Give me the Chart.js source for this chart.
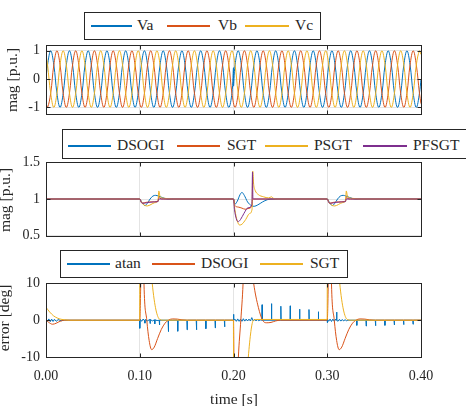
<!DOCTYPE html>
<html>
<head>
<meta charset="utf-8">
<script src="https://cdn.jsdelivr.net/npm/chart.js@4"></script>
<style>
  body { margin: 0; background: #fff; }
  #wrap { position: relative; width: 466px; height: 406px; overflow: hidden; background: #fff;
          font-family: 'Liberation Serif', 'Times New Roman', serif; color: #262626; }
  canvas { position: absolute; left: 0; }
  .legend { position: absolute; background: #fff; border: 1px solid #262626; box-sizing: border-box; z-index: 5; }
  .sample { position: absolute; height: 2px; z-index: 6; }
  .ltext { position: absolute; font-size: 15.5px; line-height: 18px; height: 18px; white-space: nowrap; z-index: 6; }
  .ytitle { position: absolute; font-size: 15.5px; line-height: 16px; white-space: nowrap;
            transform: translate(-50%, -50%) rotate(-90deg); z-index: 4; }
  .xtitle { position: absolute; font-size: 15.5px; line-height: 16px; white-space: nowrap;
            transform: translate(-50%, -50%); }
</style>
</head>
<body>
<div id="wrap">
  <canvas id="c1" width="466" height="97" style="top:31px"></canvas>
  <canvas id="c2" width="466" height="102" style="top:148px"></canvas>
  <canvas id="c3" width="466" height="137" style="top:269px"></canvas>

  <div class="legend" style="left:84px; top:12px; width:237px; height:28px"></div>
  <div class="sample" style="left:91px; top:25px; width:41px; background:#0072BD"></div>
  <div class="ltext" style="left:137px; top:16px">Va</div>
  <div class="sample" style="left:167px; top:25px; width:43px; background:#D95319"></div>
  <div class="ltext" style="left:218px; top:16px">Vb</div>
  <div class="sample" style="left:245px; top:25px; width:44px; background:#EDB120"></div>
  <div class="ltext" style="left:295px; top:16px">Vc</div>

  <div class="legend" style="left:62px; top:129px; width:420px; height:30px"></div>
  <div class="sample" style="left:68px; top:145px; width:43px; background:#0072BD"></div>
  <div class="ltext" style="left:117px; top:136px">DSOGI</div>
  <div class="sample" style="left:177px; top:145px; width:43px; background:#D95319"></div>
  <div class="ltext" style="left:227px; top:136px">SGT</div>
  <div class="sample" style="left:265px; top:145px; width:43px; background:#EDB120"></div>
  <div class="ltext" style="left:314px; top:136px">PSGT</div>
  <div class="sample" style="left:363px; top:145px; width:44px; background:#7E2F8E"></div>
  <div class="ltext" style="left:413px; top:136px">PFSGT</div>

  <div class="legend" style="left:60px; top:250px; width:288px; height:28px"></div>
  <div class="sample" style="left:67px; top:263px; width:43px; background:#0072BD"></div>
  <div class="ltext" style="left:115px; top:254px">atan</div>
  <div class="sample" style="left:152px; top:263px; width:43px; background:#D95319"></div>
  <div class="ltext" style="left:201px; top:254px">DSOGI</div>
  <div class="sample" style="left:260px; top:263px; width:43px; background:#EDB120"></div>
  <div class="ltext" style="left:310px; top:254px">SGT</div>

  <div class="ytitle" style="left:12px; top:80px">mag [p.u.]</div>
  <div class="ytitle" style="left:5px; top:200px">mag [p.u.]</div>
  <div class="ytitle" style="left:4px; top:318px">error [deg]</div>
  <div class="xtitle" style="left:234px; top:399px">time [s]</div>
</div>

<script>
// x axis ticks (shared by the three panels)
const xTickVals = [0, 0.1, 0.2, 0.3, 0.4];
const xTickLabels = ['0.00', '0.10', '0.20', '0.30', '0.40'];

// ---- panel 1 : three phase voltages, sampled every 60 deg (50 Hz) ----
const sineStep = 1 / 300;
const vaV = [0,
  0.5, 1, 0.5, -0.5, -1, -0.5, 0.5, 1, 0.5, -0.5, -1, -0.5,
  0.5, 1, 0.5, -0.5, -1, -0.5, 0.5, 1, 0.5, -0.5, -1, -0.5,
  0.5, 1, 0.5, -0.5, -1, -0.5, 0.5, 1, 0.5, -0.5, -1, -0.5,
  0.5, 1, 0.5, -0.5, -1, -0.5, 0.5, 1, 0.5, -0.5, -1, -0.5,
  0.5, 1, 0.5, -0.5, -1, -0.5, 0.5, 1, 0.5, -0.5, -1, -0.5,
  0.5, 1, 0.5, -0.5, -1, -0.5, 0.5, 1, 0.5, -0.5, -1, -0.5,
  0.5, 1, 0.5, -0.5, -1, -0.5, 0.5, 1, 0.5, -0.5, -1, -0.5,
  0.5, 1, 0.5, -0.5, -1, -0.5, 0.5, 1, 0.5, -0.5, -1, -0.5,
  0.5, 1, 0.5, -0.5, -1, -0.5, 0.5, 1, 0.5, -0.5, -1, -0.5,
  0.5, 1, 0.5, -0.5, -1, -0.5, 0.5, 1, 0.5, -0.5, -1, -0.5,
  0];
const vbV = [-0.87,
  -1, -0.5, 0.5, 1, 0.5, -0.5, -1, -0.5, 0.5, 1, 0.5, -0.5,
  -1, -0.5, 0.5, 1, 0.5, -0.5, -1, -0.5, 0.5, 1, 0.5, -0.5,
  -1, -0.5, 0.5, 1, 0.5, -0.5, -1, -0.5, 0.5, 1, 0.5, -0.5,
  -1, -0.5, 0.5, 1, 0.5, -0.5, -1, -0.5, 0.5, 1, 0.5, -0.5,
  -1, -0.5, 0.5, 1, 0.5, -0.5, -1, -0.5, 0.5, 1, 0.5, -0.5,
  -1, -0.5, 0.5, 1, 0.5, -0.5, -1, -0.5, 0.5, 1, 0.5, -0.5,
  -1, -0.5, 0.5, 1, 0.5, -0.5, -1, -0.5, 0.5, 1, 0.5, -0.5,
  -1, -0.5, 0.5, 1, 0.5, -0.5, -1, -0.5, 0.5, 1, 0.5, -0.5,
  -1, -0.5, 0.5, 1, 0.5, -0.5, -1, -0.5, 0.5, 1, 0.5, -0.5,
  -1, -0.5, 0.5, 1, 0.5, -0.5, -1, -0.5, 0.5, 1, 0.5, -0.5,
  -0.87];
const vcV = [0.87,
  0.5, -0.5, -1, -0.5, 0.5, 1, 0.5, -0.5, -1, -0.5, 0.5, 1,
  0.5, -0.5, -1, -0.5, 0.5, 1, 0.5, -0.5, -1, -0.5, 0.5, 1,
  0.5, -0.5, -1, -0.5, 0.5, 1, 0.5, -0.5, -1, -0.5, 0.5, 1,
  0.5, -0.5, -1, -0.5, 0.5, 1, 0.5, -0.5, -1, -0.5, 0.5, 1,
  0.5, -0.5, -1, -0.5, 0.5, 1, 0.5, -0.5, -1, -0.5, 0.5, 1,
  0.5, -0.5, -1, -0.5, 0.5, 1, 0.5, -0.5, -1, -0.5, 0.5, 1,
  0.5, -0.5, -1, -0.5, 0.5, 1, 0.5, -0.5, -1, -0.5, 0.5, 1,
  0.5, -0.5, -1, -0.5, 0.5, 1, 0.5, -0.5, -1, -0.5, 0.5, 1,
  0.5, -0.5, -1, -0.5, 0.5, 1, 0.5, -0.5, -1, -0.5, 0.5, 1,
  0.5, -0.5, -1, -0.5, 0.5, 1, 0.5, -0.5, -1, -0.5, 0.5, 1,
  0.87];
// phase jump of Va at 0.2 s
const vaJumpT = [0.19995, 0.20005];
const vaJumpV = [0.4, -0.25];
const yTicks1 = [-1, 0, 1];
const yLabels1 = ['-1', '0', '1'];

// ---- panel 2 : estimated magnitude ----
const dsogiMagT = [0, 0.1, 0.1025, 0.1055, 0.108, 0.111, 0.114, 0.117, 0.12, 0.124, 0.13,
  0.2, 0.2015, 0.204, 0.207, 0.209, 0.2115, 0.215, 0.219, 0.222, 0.226, 0.231, 0.236, 0.242,
  0.3, 0.3025, 0.3055, 0.308, 0.311, 0.314, 0.317, 0.32, 0.324, 0.33, 0.4];
const dsogiMagV = [1, 1, 0.95, 0.91, 0.94, 1.0, 1.04, 1.05, 1.04, 1.02, 1.0,
  1, 0.93, 0.97, 1.06, 1.09, 1.05, 0.96, 0.91, 0.9, 0.92, 0.96, 0.99, 1.0,
  1, 0.95, 0.91, 0.94, 1.0, 1.04, 1.05, 1.04, 1.02, 1.0, 1];
const sgtMagT = [0, 0.1, 0.1015, 0.103, 0.107, 0.112, 0.1195, 0.1202, 0.1215, 0.125,
  0.2, 0.2015, 0.205, 0.209, 0.2125, 0.2155, 0.2195, 0.2205, 0.2215, 0.225,
  0.3, 0.3015, 0.303, 0.307, 0.312, 0.3195, 0.3202, 0.3215, 0.325, 0.4];
const sgtMagV = [1, 1, 0.96, 0.945, 0.955, 0.96, 0.97, 1.03, 1.01, 1.0,
  1, 0.91, 0.89, 0.875, 0.86, 0.87, 0.9, 1.0, 1.0, 1.0,
  1, 0.96, 0.945, 0.955, 0.96, 0.97, 1.03, 1.01, 1.0, 1];
const psgtMagT = [0, 0.1, 0.102, 0.105, 0.108, 0.112, 0.116, 0.1195, 0.1203, 0.1215, 0.123, 0.126, 0.13, 0.135,
  0.2, 0.2015, 0.204, 0.2065, 0.209, 0.213, 0.217, 0.2198, 0.2205, 0.2215, 0.223, 0.2265, 0.232, 0.2375, 0.2405, 0.2425, 0.246,
  0.3, 0.302, 0.305, 0.308, 0.312, 0.316, 0.3195, 0.3203, 0.3215, 0.323, 0.326, 0.33, 0.335, 0.4];
const psgtMagV = [1, 1, 0.95, 0.915, 0.905, 0.925, 0.95, 0.97, 1.11, 1.04, 1.02, 1.01, 1.005, 1.0,
  1, 0.85, 0.7, 0.645, 0.655, 0.72, 0.8, 0.86, 1.38, 1.2, 1.12, 1.06, 1.03, 1.015, 1.03, 1.01, 1.0,
  1, 0.95, 0.915, 0.905, 0.925, 0.95, 0.97, 1.11, 1.04, 1.02, 1.01, 1.005, 1.0, 1];
const pfsgtMagT = [0, 0.1, 0.1015, 0.103, 0.106, 0.11, 0.115, 0.1195, 0.1201, 0.125,
  0.2, 0.201, 0.203, 0.205, 0.2075, 0.211, 0.2155, 0.2196, 0.2203, 0.2207, 0.2215, 0.225,
  0.3, 0.3015, 0.303, 0.306, 0.31, 0.315, 0.3195, 0.3201, 0.325, 0.4];
const pfsgtMagV = [1, 1, 0.955, 0.94, 0.945, 0.955, 0.96, 0.965, 1.0, 1.0,
  1, 0.86, 0.73, 0.69, 0.72, 0.8, 0.88, 0.92, 1.37, 1.0, 1.0, 1.0,
  1, 0.955, 0.94, 0.945, 0.955, 0.96, 0.965, 1.0, 1.0, 1];
const yTicks2 = [0.5, 1, 1.5];
const yLabels2 = ['0.5', '1', '1.5'];

// ---- panel 3 : phase error [deg] ----
const atanErrT = [0, 0.0015, 0.003, 0.0045, 0.006, 0.0075, 0.009, 0.011, 0.013, 0.016, 0.02, 0.0999,
  0.1, 0.1004, 0.102, 0.1035, 0.1052, 0.1055, 0.1058, 0.108, 0.1107, 0.111, 0.1113, 0.1135, 0.1157, 0.116, 0.1163,
  0.1185, 0.1207, 0.121, 0.1213,
  0.1302, 0.1305, 0.1308, 0.1402, 0.1405, 0.1408, 0.1502, 0.1505, 0.1508, 0.1602, 0.1605, 0.1608,
  0.1702, 0.1705, 0.1708, 0.1802, 0.1805, 0.1808, 0.1902, 0.1905, 0.1908, 0.1999,
  0.2, 0.2004, 0.2015, 0.203, 0.2045, 0.206, 0.2075, 0.209, 0.2105, 0.212, 0.2135, 0.215, 0.2165, 0.218,
  0.2195, 0.221, 0.2225, 0.224, 0.2255, 0.227, 0.2285,
  0.2302, 0.2305, 0.2308, 0.2402, 0.2405, 0.2408, 0.2502, 0.2505, 0.2508, 0.2602, 0.2605, 0.2608,
  0.2702, 0.2705, 0.2708, 0.2802, 0.2805, 0.2808, 0.2902, 0.2905, 0.2908, 0.2999,
  0.3, 0.3004, 0.3015, 0.303, 0.3045, 0.306, 0.3075, 0.309, 0.3097, 0.31, 0.3103, 0.3115, 0.313, 0.3145,
  0.316, 0.3175, 0.319, 0.3205, 0.322,
  0.3312, 0.3315, 0.3318, 0.3412, 0.3415, 0.3418, 0.3512, 0.3515, 0.3518, 0.3612, 0.3615, 0.3618,
  0.3712, 0.3715, 0.3718, 0.3812, 0.3815, 0.3818, 0.3912, 0.3915, 0.3918, 0.4];
const atanErrV = [0.3, -0.3, 0.35, -0.4, 0.3, -0.35, 0.25, -0.3, 0.2, -0.15, 0, 0,
  -2.2, 0.3, -0.3, 0.3, -0.1, -0.8, 0.2, -0.2, 0.2, -0.9, 0.2, -0.2, 0.1, -1.0, 0.1,
  -0.1, 0, -1.3, 0,
  0, -3.1, 0, 0, -3.0, 0, 0, -2.6, 0, 0, -2.6, 0,
  0, -2.3, 0, 0, -2.1, 0, 0, -1.8, 0, 0,
  1.6, 0, 0.3, -0.3, 0.35, -0.3, 0.3, -0.3, 0.4, -0.25, 0.3, -0.2, 0.3, -0.2,
  0.7, -0.2, 0.25, -0.2, 0.2, -0.15, 0.1,
  0, 4.2, 0, 0, 4.5, 0, 0, 3.8, 0, 0, 3.9, 0,
  0, 3.0, 0, 0, 2.9, 0, 0, 2.3, 0, 0,
  -0.7, 0.3, -0.3, 0.3, -0.35, 0.3, -0.3, 0.3, 0, 2.2, 0, -0.3, 0.25, -0.25,
  0.2, -0.2, 0.15, -0.15, 0,
  0, -1.4, 0, 0, -1.6, 0, 0, -1.5, 0, 0, -1.4, 0,
  0, -1.3, 0, 0, -1.2, 0, 0, -1.1, 0, 0];
const dsogiErrT = [0, 0.003, 0.007, 0.011, 0.015, 0.02, 0.0999,
  0.1, 0.1012, 0.102, 0.1035, 0.1045, 0.1075, 0.11, 0.1127, 0.1155, 0.119, 0.123, 0.127, 0.1305, 0.135, 0.14, 0.145, 0.15, 0.1999,
  0.2, 0.2008, 0.203, 0.2052, 0.2078, 0.2102, 0.2115, 0.217, 0.2215, 0.2265, 0.231, 0.2355, 0.24, 0.245, 0.25, 0.2999,
  0.3, 0.3012, 0.302, 0.3035, 0.3045, 0.3075, 0.31, 0.3127, 0.3155, 0.319, 0.323, 0.327, 0.3305, 0.335, 0.34, 0.345, 0.35, 0.4];
const dsogiErrV = [0, -0.6, -1.1, -0.8, -0.3, 0, 0,
  0, 12, 25, 25, 10, 0, -5.5, -8, -7.3, -5, -2.5, -0.8, 0, 0.35, 0.3, 0.1, 0, 0,
  0, -20, -25, -10, 0, 10, 20, 20, 10, 3.5, 0, -0.7, -0.6, -0.2, 0, 0,
  0, 12, 25, 25, 10, 0, -5.5, -8, -7.3, -5, -2.5, -0.8, 0, 0.35, 0.3, 0.1, 0, 0];
const sgtErrT = [0, 0.004, 0.008, 0.012, 0.016, 0.02, 0.025, 0.0999,
  0.1002, 0.108, 0.1133, 0.1213, 0.125, 0.1999,
  0.2002, 0.211, 0.2158, 0.2213, 0.225, 0.2999,
  0.3002, 0.308, 0.3133, 0.3213, 0.325, 0.4];
const sgtErrV = [3.5, 2.2, 1.2, 0.6, 0.25, 0.1, 0, 0,
  30, 30, 10, 0.2, 0, 0,
  -30, -30, -10, 0, 0.2, 0.2,
  30, 30, 10, 0.2, 0, 0];
const yTicks3 = [-10, 0, 10];
const yLabels3 = ['-10', '0', '10'];

const C_BLUE = '#0072BD', C_ORANGE = '#D95319', C_YELLOW = '#EDB120', C_PURPLE = '#7E2F8E';
const FONT = "'Liberation Serif', 'Times New Roman', serif";

function pts(t, v) {
  return t.map((x, i) => ({ x: x, y: v[i] }));
}

// MATLAB style box with inward ticks
const matlabBox = {
  id: 'matlabBox',
  afterDatasetsDraw(chart) {
    const ctx = chart.ctx, a = chart.chartArea, sx = chart.scales.x, sy = chart.scales.y;
    const L = Math.round(a.left) + 0.5, R = Math.round(a.right) + 0.5;
    const T = Math.round(a.top) + 0.5, B = Math.round(a.bottom) + 0.5;
    ctx.save();
    ctx.strokeStyle = '#262626';
    ctx.lineWidth = 1;
    ctx.beginPath();
    sx.ticks.forEach(t => {
      const px = Math.round(sx.getPixelForValue(t.value)) + 0.5;
      ctx.moveTo(px, T); ctx.lineTo(px, T + 4);
      ctx.moveTo(px, B); ctx.lineTo(px, B - 4);
    });
    sy.ticks.forEach(t => {
      const py = Math.round(sy.getPixelForValue(t.value)) + 0.5;
      ctx.moveTo(L, py); ctx.lineTo(L + 4, py);
      ctx.moveTo(R, py); ctx.lineTo(R - 4, py);
    });
    ctx.stroke();
    ctx.strokeRect(L, T, R - L, B - T);
    ctx.restore();
  }
};

function makeOptions(yMin, yMax, yTicks, yLabels, showX, xHeight) {
  return {
    responsive: false,
    animation: false,
    devicePixelRatio: 1,
    layout: { padding: { left: 0, right: 45, top: 10, bottom: 0 } },
    plugins: { legend: { display: false }, tooltip: { enabled: false } },
    elements: { point: { radius: 0 } },
    scales: {
      x: {
        type: 'linear', min: 0, max: 0.4,
        afterBuildTicks: s => { s.ticks = xTickVals.map(v => ({ value: v })); },
        afterFit: s => { s.height = xHeight; },
        grid: { color: '#e4e4e4', drawTicks: false },
        border: { display: false },
        ticks: {
          display: showX, padding: 11, maxRotation: 0, color: '#262626',
          font: { family: FONT, size: 14 },
          callback: (v, i) => xTickLabels[i]
        }
      },
      y: {
        type: 'linear', min: yMin, max: yMax,
        afterBuildTicks: s => { s.ticks = yTicks.map(v => ({ value: v })); },
        afterFit: s => { s.width = 46; },
        grid: { color: '#e4e4e4', drawTicks: false },
        border: { display: false },
        ticks: {
          padding: 6, color: '#262626',
          font: { family: FONT, size: 14 },
          callback: (v, i) => yLabels[i]
        }
      }
    }
  };
}

function line(label, data, color, order, extra) {
  return Object.assign({
    label: label, data: data, borderColor: color, borderWidth: 1,
    pointRadius: 0, fill: false, order: order
  }, extra || {});
}

// panel 1
const sineT = [0];
for (let k = 0; k < 120; k++) sineT.push(1 / 600 + k * sineStep);
sineT.push(0.4);
const vaData = pts(sineT, vaV).concat(pts(vaJumpT, vaJumpV)).sort((p, q) => p.x - q.x);

new Chart(document.getElementById('c1'), {
  type: 'line',
  data: { datasets: [
    line('Va', vaData, C_BLUE, 3, { tension: 0.4 }),
    line('Vb', pts(sineT, vbV), C_ORANGE, 2, { tension: 0.4 }),
    line('Vc', pts(sineT, vcV), C_YELLOW, 1, { tension: 0.4 })
  ] },
  options: makeOptions(-1.22, 1.19, yTicks1, yLabels1, false, 10),
  plugins: [matlabBox]
});

// panel 2
new Chart(document.getElementById('c2'), {
  type: 'line',
  data: { datasets: [
    line('DSOGI', pts(dsogiMagT, dsogiMagV), C_BLUE, 4, { cubicInterpolationMode: 'monotone' }),
    line('SGT', pts(sgtMagT, sgtMagV), C_ORANGE, 3, { cubicInterpolationMode: 'monotone' }),
    line('PSGT', pts(psgtMagT, psgtMagV), C_YELLOW, 2, { cubicInterpolationMode: 'monotone' }),
    line('PFSGT', pts(pfsgtMagT, pfsgtMagV), C_PURPLE, 1, { cubicInterpolationMode: 'monotone' })
  ] },
  options: makeOptions(0.5, 1.5, yTicks2, yLabels2, false, 10),
  plugins: [matlabBox]
});

// panel 3
new Chart(document.getElementById('c3'), {
  type: 'line',
  data: { datasets: [
    line('atan', pts(atanErrT, atanErrV), C_BLUE, 3),
    line('DSOGI', pts(dsogiErrT, dsogiErrV), C_ORANGE, 2, { cubicInterpolationMode: 'monotone' }),
    line('SGT', pts(sgtErrT, sgtErrV), C_YELLOW, 1, { cubicInterpolationMode: 'monotone' })
  ] },
  options: makeOptions(-10, 10, yTicks3, yLabels3, true, 49),
  plugins: [matlabBox]
});
</script>
</body>
</html>
